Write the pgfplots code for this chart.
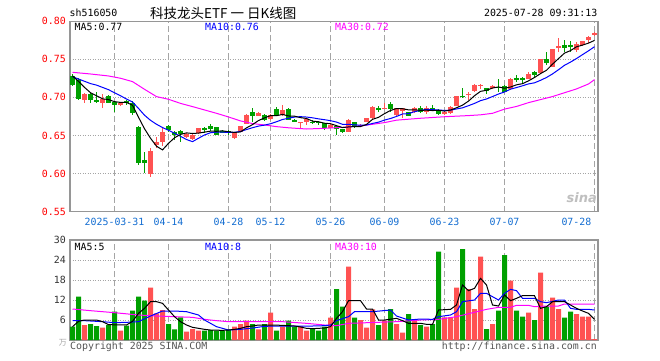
\documentclass[border=0pt]{standalone}
\usepackage{fontspec}
\setmainfont{DejaVu Sans Mono}
\newfontfamily\cjk{Noto Sans CJK SC}
\newfontfamily\logofont{DejaVu Sans}
\usepackage{pgfplots}
\pgfplotsset{compat=1.18}
\usepackage{pgfplotstable}
\definecolor{cred}{RGB}{255,82,82}
\definecolor{cgrn}{RGB}{0,160,0}
\definecolor{cblue}{RGB}{0,0,255}
\definecolor{cmag}{RGB}{255,0,255}
\definecolor{framegray}{RGB}{150,150,150}
\definecolor{gridgray}{RGB}{165,165,165}
\definecolor{datecol}{RGB}{20,110,210}
\definecolor{txtgray}{RGB}{85,85,85}

% up (red) candles: index open high low close volume
\pgfplotstableread{
i o h l c v
2 .6965 .7055 .6930 .7048 4.5
5 .6925 .7050 .6865 .6975 3.7
8 .6895 .6935 .6880 .6920 2.8
13 .5994 .6340 .5950 .6300 15.7
14 .6374 .6480 .6340 .6418 8.0
15 .6418 .6615 .6360 .6550 9.0
19 .6475 .6530 .6460 .6520 2.5
20 .6450 .6520 .6440 .6510 3.3
21 .6527 .6600 .6520 .6593 2.8
27 .6462 .6535 .6455 .6527 4.0
28 .6550 .6630 .6545 .6624 4.8
29 .6650 .6775 .6645 .6768 5.8
31 .6755 .6810 .6750 .6800 3.2
33 .6710 .6780 .6700 .6768 8.2
35 .6768 .6900 .6760 .6834 4.0
38 .6668 .6675 .6593 .6672 4.2
39 .6680 .6715 .6635 .6711 2.8
43 .6602 .6645 .6598 .6637 6.7
46 .6550 .6710 .6545 .6703 22.0
48 .6620 .6650 .6610 .6640 6.0
49 .6680 .6730 .6675 .6724 3.7
50 .6724 .6880 .6720 .6873 9.2
52 .6855 .6930 .6845 .6860 5.8
54 .6768 .6865 .6760 .6856 4.8
55 .6820 .6860 .6730 .6856 2.2
57 .6803 .6870 .6795 .6864 6.2
59 .6803 .6880 .6780 .6864 4.0
62 .6777 .6815 .6770 .6810 6.8
63 .6790 .6885 .6785 .6878 6.8
64 .6890 .7020 .6885 .7017 15.7
66 .7030 .7075 .6965 .7044 15.3
67 .7080 .7170 .7070 .7162 9.3
68 .7158 .7170 .7105 .7162 25.0
70 .7118 .7160 .7110 .7153 4.8
73 .7110 .7250 .7100 .7242 17.8
76 .7242 .7338 .7235 .7303 8.2
78 .7316 .7505 .7310 .7500 20.2
80 .7404 .7640 .7395 .7631 12.7
81 .7664 .7776 .7600 .7668 9.3
84 .7622 .7732 .7590 .7697 7.8
85 .7680 .7745 .7675 .7740 7.0
86 .7754 .7800 .7710 .7797 7.0
87 .7830 .7863 .7810 .7834 0.3
}\redk

% down (green) candles
\pgfplotstableread{
i o h l c v
0 .7284 .7300 .7150 .7162 4.0
1 .7225 .7250 .6965 .6975 13.0
3 .7040 .7075 .6930 .6970 4.8
4 .6970 .7065 .6920 .6943 4.2
6 .7017 .7030 .6920 .6930 4.5
7 .6943 .6950 .6810 .6895 8.5
9 .6950 .6960 .6905 .6920 4.3
10 .6925 .6950 .6770 .6790 8.8
11 .6615 .6620 .6112 .6140 13.0
12 .6178 .6287 .6010 .6140 11.8
16 .6624 .6640 .6550 .6570 4.8
17 .6550 .6560 .6440 .6506 3.2
18 .6563 .6570 .6420 .6520 6.8
22 .6600 .6615 .6530 .6570 2.8
23 .6624 .6645 .6560 .6589 3.0
24 .6610 .6615 .6500 .6506 2.8
25 .6560 .6565 .6530 .6540 2.8
26 .6555 .6575 .6510 .6535 3.0
30 .6812 .6856 .6680 .6755 4.8
32 .6768 .6775 .6695 .6703 4.8
34 .6843 .6870 .6760 .6768 2.8
36 .6847 .6855 .6700 .6703 5.8
37 .6703 .6720 .6680 .6688 4.0
40 .6680 .6700 .6650 .6662 3.3
41 .6680 .6685 .6632 .6662 2.8
42 .6659 .6662 .6570 .6593 4.0
44 .6624 .6637 .6506 .6584 15.3
45 .6584 .6590 .6535 .6540 10.0
47 .6672 .6680 .6595 .6615 6.7
51 .6856 .6890 .6810 .6834 4.5
53 .6908 .6943 .6810 .6843 9.3
56 .6803 .6810 .6750 .6760 7.8
58 .6864 .6880 .6800 .6810 4.5
60 .6864 .6900 .6825 .6834 4.8
61 .6834 .6840 .6770 .6777 26.5
65 .7020 .7118 .6990 .7003 27.3
69 .7118 .7120 .7040 .7087 3.3
71 .7140 .7240 .7075 .7118 8.8
72 .7150 .7160 .7070 .7076 25.5
74 .7250 .7294 .7207 .7230 8.8
75 .7250 .7272 .7185 .7230 7.0
77 .7338 .7345 .7272 .7294 6.0
79 .7500 .7600 .7425 .7448 10.0
82 .7680 .7754 .7600 .7653 6.7
83 .7690 .7735 .7600 .7666 8.5
}\grnk

% price moving averages
\pgfplotstableread{
i v
0 .728
1 .721
2 .713
3 .706
4 .702
5 .698
6 .697
7 .6943
8 .6933
9 .6933
10 .6896
11 .6738
12 .6587
13 .6463
14 .6358
15 .6310
16 .6396
17 .6469
18 .6513
19 .6533
20 .6525
21 .6530
22 .6543
23 .6556
24 .6554
25 .6560
26 .6548
27 .6539
28 .6546
29 .6599
30 .6642
31 .6695
32 .6730
33 .6759
34 .6759
35 .6775
36 .6755
37 .6752
38 .6733
39 .6722
40 .6687
41 .6679
42 .6660
43 .6653
44 .6628
45 .6603
46 .6611
47 .6616
48 .6616
49 .6644
50 .6711
51 .6737
52 .6786
53 .6827
54 .6853
55 .6850
56 .6835
57 .6836
58 .6829
59 .6831
60 .6826
61 .6830
62 .6819
63 .6833
64 .6863
65 .6897
66 .6950
67 .7021
68 .7078
69 .7092
70 .7122
71 .7136
72 .7119
73 .7135
74 .7164
75 .7179
76 .7216
77 .7260
78 .7311
79 .7355
80 .7435
81 .7508
82 .7580
83 .7613
84 .7663
85 .7685
86 .7711
87 .7747
}\mafive

\pgfplotstableread{
i v
0 .727
1 .724
2 .721
3 .718
4 .716
5 .713
6 .710
7 .706
8 .702
9 .6977
10 .6938
11 .6854
12 .6765
13 .6698
14 .6646
15 .6603
16 .6567
17 .6528
18 .6488
19 .6446
20 .6418
21 .6463
22 .6506
23 .6535
24 .6544
25 .6543
26 .6539
27 .6541
28 .6551
29 .6577
30 .6601
31 .6622
32 .6635
33 .6653
34 .6679
35 .6709
36 .6725
37 .6741
38 .6746
39 .6741
40 .6731
41 .6717
42 .6706
43 .6693
44 .6675
45 .6645
46 .6645
47 .6638
48 .6635
49 .6636
50 .6657
51 .6674
52 .6701
53 .6722
54 .6749
55 .6781
56 .6786
57 .6811
58 .6828
59 .6842
60 .6838
61 .6833
62 .6828
63 .6831
64 .6847
65 .6862
66 .6890
67 .6920
68 .6956
69 .6978
70 .7010
71 .7043
72 .7070
73 .7107
74 .7128
75 .7151
76 .7176
77 .7190
78 .7223
79 .7260
80 .7307
81 .7362
82 .7420
83 .7462
84 .7509
85 .7560
86 .7610
87 .7664
}\maten

\pgfplotstableread{
i v
0 .7328
3 .7306
6 .7280
8 .7250
10 .7206
12 .7105
14 .7009
16 .6974
18 .6920
20 .6878
22 .6834
24 .6790
26 .6742
28 .6690
30 .6655
32 .6637
34 .6615
36 .6600
39 .6584
42 .6593
45 .6606
48 .6624
50 .6646
52 .6668
54 .6700
58 .6725
62 .6745
66 .6760
68 .6770
70 .6790
72 .6845
74 .6880
76 .6930
78 .6970
80 .7010
82 .7060
84 .7110
86 .7175
87 .7232
}\mathirty

% volume moving averages
\pgfplotstableread{
i v
0 4.0
1 5.6
2 6.0
4 6.0
5 5.5
6 4.6
9 4.5
10 5.6
11 8.0
12 9.5
13 11.5
14 11.5
15 11.0
16 9.0
17 7.0
18 5.5
19 4.5
20 3.8
21 3.5
22 3.2
23 3.0
25 2.9
26 3.0
27 3.2
28 3.5
29 4.0
30 4.2
31 4.5
33 4.5
35 4.4
37 4.2
38 3.9
39 3.5
40 3.4
42 3.6
43 4.0
44 6.5
45 8.5
46 11.8
48 11.8
49 9.3
50 9.3
51 6.0
52 6.0
54 6.5
55 5.8
56 5.0
58 5.0
59 4.7
60 4.7
61 9.0
63 9.2
64 10.5
65 16.5
66 14.8
67 15.5
68 18.5
69 16.5
70 10.5
71 10.2
72 13.5
73 11.8
74 12.5
75 13.3
77 13.3
78 9.5
79 10.0
80 11.5
82 11.5
83 10.5
84 9.5
85 8.7
86 8.0
87 6.2
}\vfive

\pgfplotstableread{
i v
0 5.8
2 5.8
5 5.5
7 5.2
9 5.3
11 5.5
13 7.2
15 8.7
17 8.7
19 8.5
21 7.5
22 6.0
24 4.0
26 3.0
28 3.2
30 3.6
32 4.1
34 4.2
36 4.2
38 4.2
40 4.2
42 4.3
43 4.5
44 5.8
46 7.0
47 8.5
50 8.5
53 9.0
54 7.2
56 6.0
58 6.3
60 6.2
61 7.0
63 7.5
64 8.5
65 11.5
67 12.0
68 14.0
69 14.0
71 12.0
72 14.0
73 15.2
74 14.8
75 12.5
77 12.5
78 11.5
79 11.2
81 12.0
82 12.0
83 9.5
84 9.2
86 9.2
87 9.0
}\vten

\pgfplotstableread{
i v
0 9.3
3 8.8
7 8.2
11 7.5
14 7.2
17 7.0
20 6.8
22 6.2
24 5.8
26 5.5
30 5.5
35 5.5
39 5.0
42 4.5
44 4.3
46 5.0
54 5.5
58 6.0
61 6.2
64 7.0
69 9.2
71 9.8
73 9.8
74 10.4
76 10.4
77 10.0
79 10.2
81 10.2
82 10.8
87 10.8
}\vthirty

\pgfplotsset{
  kbase/.style={
    scale only axis,
    axis line style={draw=framegray, line width=1.2pt},
    tick style={draw=none}, major tick length=0pt,
    xmin=-0.42, xmax=87.58,
    xtick={7,16,26,33,43,52,62,72,87},
    xmajorgrids, ymajorgrids,
    x grid style={draw=gridgray, line width=1pt, dash pattern=on 6pt off 3pt},
    y grid style={draw=gridgray, line width=1pt, dash pattern=on 1pt off 1.5pt},
    ticklabel style={font=\fontsize{9.9}{10}\selectfont, inner sep=0pt},
    yticklabel style={anchor=east, xshift=-4pt},
    /pgf/number format/assume math mode=true,
  },
  wick/.style={draw=none, mark=none, forget plot,
    error bars/.cd, y dir=both, y explicit, error mark=none,
    error bar style={draw=#1, solid, line width=1pt}},
  body/.style={draw=none, mark=none, forget plot,
    error bars/.cd, y dir=both, y explicit, error mark=none,
    error bar style={draw=#1, solid, line width=5pt}},
}

\begin{document}
\begin{tikzpicture}[x=1pt,y=1pt]
\fill[white] (0,0) rectangle (660,360);
\useasboundingbox (0,0) rectangle (660,360);

% ---------- price panel ----------
\begin{axis}[kbase, at={(70pt,148.4pt)}, anchor=south west,
  width=528pt, height=190.5pt,
  ymin=0.55, ymax=0.80,
  ytick={0.55,0.60,0.65,0.70,0.75,0.80},
  yticklabels={0.55,0.60,0.65,0.70,0.75,0.80},
  yticklabel style={text=red},
  xticklabels={2025-03-31,04-14,04-28,05-12,05-26,06-09,06-23,07-07,{}},
  xticklabel style={text=datecol, anchor=north, yshift=-6pt},
]
\addplot[wick=cgrn] table[x=i, y expr={(\thisrow{h}+\thisrow{l})/2}, y error expr={(\thisrow{h}-\thisrow{l})/2}] \grnk;
\addplot[body=cgrn] table[x=i, y expr={(\thisrow{o}+\thisrow{c})/2}, y error expr={max(abs(\thisrow{o}-\thisrow{c})/2,0.0007)}] \grnk;
\addplot[wick=cred] table[x=i, y expr={(\thisrow{h}+\thisrow{l})/2}, y error expr={(\thisrow{h}-\thisrow{l})/2}] \redk;
\addplot[body=cred] table[x=i, y expr={(\thisrow{o}+\thisrow{c})/2}, y error expr={max(abs(\thisrow{o}-\thisrow{c})/2,0.0007)}] \redk;
\addplot[cmag, line width=1pt] table[x=i, y=v] \mathirty;
\addplot[cblue, line width=1pt] table[x=i, y=v] \maten;
\addplot[black, line width=1pt] table[x=i, y=v] \mafive;
\end{axis}

% ---------- volume panel ----------
\begin{axis}[kbase, at={(70pt,20pt)}, anchor=south west,
  width=528pt, height=100pt,
  ymin=0, ymax=30,
  ytick={6,12,18,24,30},
  yticklabels={6,12,18,24,30},
  yticklabel style={text=black!80},
  xticklabels={},
]
\addplot[ybar, bar width=5pt, bar shift=0pt, fill=cgrn, draw=none] table[x=i, y=v] \grnk;
\addplot[ybar, bar width=5pt, bar shift=0pt, fill=cred, draw=none] table[x=i, y=v] \redk;
\addplot[cmag, line width=1pt] table[x=i, y=v] \vthirty;
\addplot[cblue, line width=1pt] table[x=i, y=v] \vten;
\addplot[black, line width=1pt] table[x=i, y=v] \vfive;
\end{axis}

% ---------- texts ----------
\begin{scope}[every node/.style={font=\fontsize{9.9}{10}\selectfont, inner sep=0pt}]
\node[anchor=west] at (69.5,347) {sh516050};
\node[anchor=west, font=\cjk\fontsize{13.5}{14}\selectfont] at (150,347) {科技龙头ETF 一 日K线图};
\node[anchor=east] at (597.5,347) {2025-07-28 09:31:13};
\node[anchor=west] at (74.5,333) {MA5:0.77};
\node[anchor=west, text=cblue] at (205,333) {MA10:0.76};
\node[anchor=west, text=cmag] at (335,333) {MA30:0.72};
\node[anchor=north east, text=datecol] at (591.5,142.4) {07-28};
\node[anchor=west] at (74.5,113) {MA5:5};
\node[anchor=west, text=cblue] at (205,113) {MA10:8};
\node[anchor=west, text=cmag] at (335,113) {MA30:10};
\node[anchor=west, text=txtgray] at (70,13) {Copyright 2025 SINA.COM};
\node[anchor=east, text=txtgray] at (597,13) {http://finance.sina.com.cn};
\node[anchor=east, text=black!35, font=\cjk\fontsize{8}{8}\selectfont] at (67,17) {万};
\node[anchor=east, text=black!25, font=\logofont\bfseries\itshape\fontsize{13}{13}\selectfont] at (597,162) {sina};
\end{scope}
\end{tikzpicture}
\end{document}
